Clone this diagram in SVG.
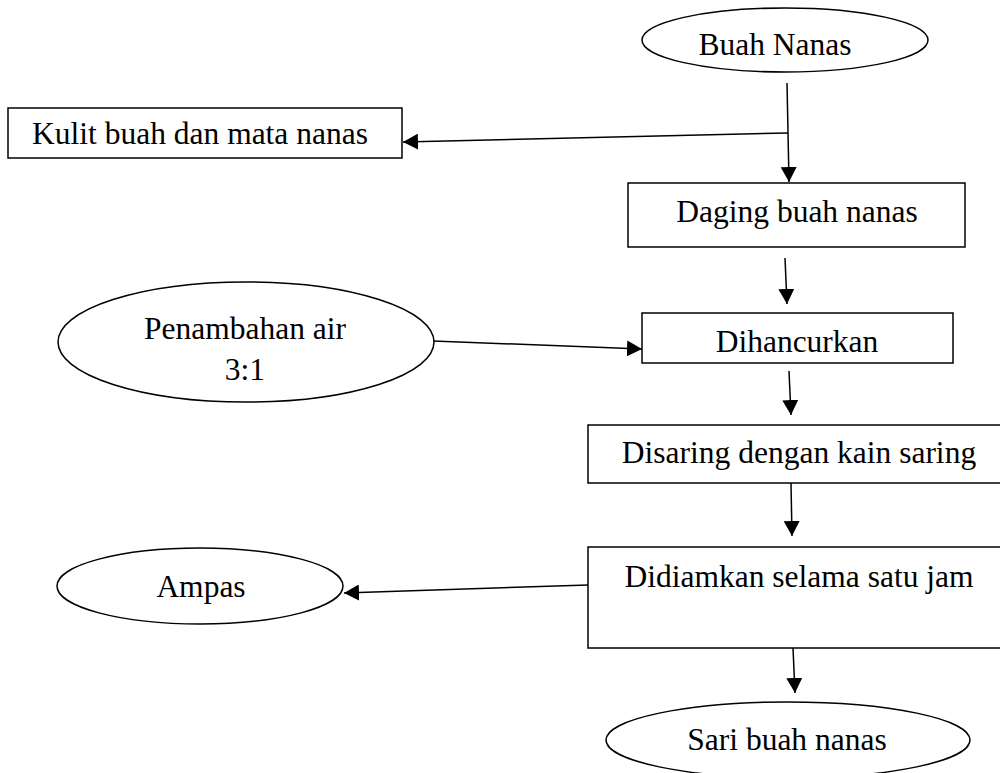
<svg xmlns="http://www.w3.org/2000/svg" width="1000" height="773" viewBox="0 0 1000 773">
<style>
.shape{fill:#fff;stroke:#000;stroke-width:1.5}
.lbl{font-family:"Liberation Serif","Times New Roman",serif;font-size:31.5px;fill:#000;text-anchor:middle}
.conn{stroke:#000;stroke-width:1.5;fill:none}
</style>
<defs>
<marker id="arr" markerUnits="userSpaceOnUse" markerWidth="16" markerHeight="16" viewBox="0 0 16 16" refX="15" refY="8" orient="auto">
<path d="M0,0 L15,8 L0,16 Z" fill="#000"/>
</marker>
<clipPath id="kclip"><rect x="0" y="100" width="410" height="45"/></clipPath>
</defs>
<rect width="1000" height="773" fill="#fff"/>
<g id="connectors">
<line class="conn" x1="787" y1="83" x2="789" y2="182" marker-end="url(#arr)"/>
<line class="conn" x1="788" y1="133" x2="403" y2="142" marker-end="url(#arr)"/>
<line class="conn" x1="785" y1="258" x2="787" y2="304" marker-end="url(#arr)"/>
<line class="conn" x1="433" y1="341" x2="642" y2="349" marker-end="url(#arr)"/>
<line class="conn" x1="789" y1="371" x2="791" y2="415" marker-end="url(#arr)"/>
<line class="conn" x1="791" y1="483" x2="792" y2="536" marker-end="url(#arr)"/>
<line class="conn" x1="588" y1="585" x2="344" y2="593" marker-end="url(#arr)"/>
<line class="conn" x1="793" y1="648" x2="795" y2="693" marker-end="url(#arr)"/>
</g>
<g id="buah-nanas">
<ellipse class="shape" cx="785" cy="40" rx="143" ry="32"/>
<text class="lbl" x="775" y="55">Buah Nanas</text>
</g>
<g id="kulit">
<rect class="shape" x="8" y="108" width="394" height="50"/>
<text class="lbl" x="200" y="144" clip-path="url(#kclip)">Kulit buah dan mata nanas</text>
</g>
<g id="daging">
<rect class="shape" x="628" y="183" width="337" height="64"/>
<text class="lbl" x="797" y="222">Daging buah nanas</text>
</g>
<g id="penambahan">
<ellipse class="shape" cx="246" cy="342" rx="188" ry="60"/>
<text class="lbl" x="245" y="339">Penambahan air</text>
<text class="lbl" x="245" y="380">3:1</text>
</g>
<g id="dihancurkan">
<rect class="shape" x="642" y="313" width="311" height="50"/>
<text class="lbl" x="797" y="352">Dihancurkan</text>
</g>
<g id="disaring">
<rect class="shape" x="588" y="425" width="420" height="58"/>
<text class="lbl" x="799" y="463">Disaring dengan kain saring</text>
</g>
<g id="didiamkan">
<rect class="shape" x="588" y="547" width="420" height="101"/>
<text class="lbl" x="799" y="587">Didiamkan selama satu jam</text>
</g>
<g id="ampas">
<ellipse class="shape" cx="200" cy="586" rx="143" ry="38"/>
<text class="lbl" x="201" y="597">Ampas</text>
</g>
<g id="sari">
<ellipse class="shape" cx="788" cy="740" rx="182" ry="38"/>
<text class="lbl" x="787" y="750">Sari buah nanas</text>
</g>
</svg>
